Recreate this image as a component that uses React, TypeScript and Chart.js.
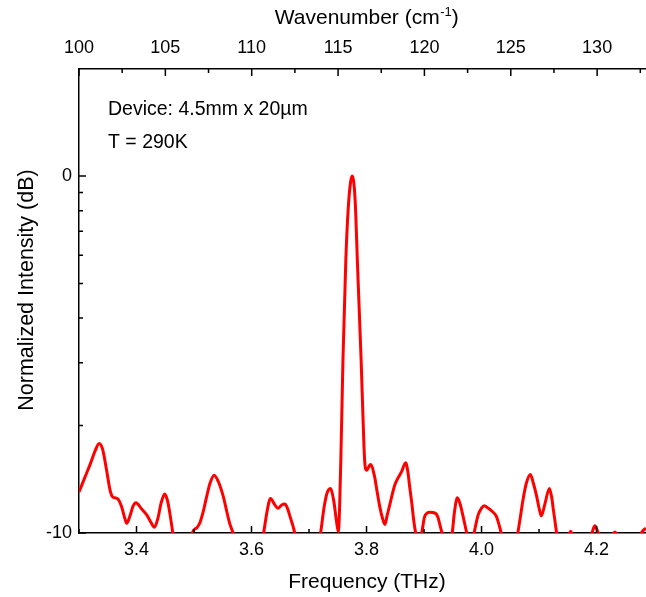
import React, { useEffect, useRef } from 'react';
import { Chart, registerables } from 'chart.js';

Chart.register(...registerables);

// ---- data ----
const frequencyTHz = [
  3.300, 3.310, 3.320, 3.328, 3.335, 3.341, 3.348, 3.354, 3.358, 3.364, 3.368, 3.374, 3.379, 3.383, 3.389, 3.394, 3.399,
  3.409, 3.418, 3.425, 3.431, 3.437, 3.443, 3.449, 3.454, 3.458, 3.464, 3.470, 3.480, 3.490, 3.497, 3.505, 3.510,
  3.516, 3.522, 3.528, 3.535, 3.542, 3.551, 3.557, 3.562, 3.569, 3.580, 3.595, 3.610, 3.621, 3.627, 3.633, 3.640,
  3.646, 3.652, 3.658, 3.663, 3.667, 3.672, 3.676, 3.690, 3.705, 3.720, 3.726, 3.731, 3.737, 3.743, 3.748, 3.751,
  3.7553, 3.759, 3.764, 3.768, 3.772, 3.775, 3.778, 3.781, 3.784, 3.7906, 3.794, 3.7967, 3.800, 3.807, 3.814, 3.818,
  3.823, 3.828, 3.832, 3.836, 3.841, 3.849, 3.855, 3.861, 3.868, 3.872, 3.875, 3.879, 3.882, 3.886, 3.891, 3.896,
  3.901, 3.905, 3.910, 3.920, 3.924, 3.927, 3.932, 3.940, 3.949, 3.953, 3.958, 3.963, 3.968, 3.975, 3.981, 3.987,
  3.994, 4.000, 4.005, 4.011, 4.017, 4.022, 4.026, 4.031, 4.035, 4.049, 4.063, 4.068, 4.072, 4.078, 4.085, 4.090,
  4.096, 4.100, 4.104, 4.110, 4.118, 4.122, 4.125, 4.128, 4.131, 4.143, 4.155, 4.167, 4.185, 4.192, 4.197, 4.203,
  4.215, 4.232, 4.250, 4.270, 4.280, 4.286,
];

const intensityDB = [
  -8.85, -8.45, -8.05, -7.7, -7.49, -7.65, -8.24, -8.8, -8.98, -9.02, -9.05, -9.26, -9.55, -9.73, -9.5, -9.25, -9.15,
  -9.33, -9.5, -9.7, -9.84, -9.6, -9.15, -8.91, -9.1, -9.45, -10.1, -10.8, -11.2, -10.8, -10.0, -9.85, -9.72,
  -9.4, -8.98, -8.6, -8.38, -8.55, -8.98, -9.4, -9.73, -10.05, -10.8, -11.2, -10.8, -10.0, -9.4, -9.03, -9.2,
  -9.31, -9.22, -9.19, -9.33, -9.54, -9.8, -10.05, -10.8, -10.8, -10.0, -9.3, -8.9, -8.75, -9.1, -9.7, -9.96,
  -7.96, -5.15, -2.35, -0.95, -0.2, 0, -0.2, -0.95, -2.35, -5.15, -6.83, -7.96, -8.24, -8.08, -8.42, -8.8,
  -9.26, -9.6, -9.76, -9.5, -9.17, -8.66, -8.45, -8.28, -8.03, -8.3, -8.7, -9.2, -9.64, -10.05, -10.4, -10.0,
  -9.54, -9.45, -9.42, -9.45, -9.55, -9.73, -10.05, -10.6, -10.0, -9.4, -9.01, -9.2, -9.54, -10.05, -10.4, -10.0,
  -9.5, -9.3, -9.24, -9.3, -9.37, -9.45, -9.54, -9.8, -10.05, -10.9, -10.0, -9.5, -9.08, -8.6, -8.36, -8.6,
  -8.98, -9.3, -9.52, -9.2, -8.75, -9.0, -9.36, -9.7, -10.05, -10.5, -9.95, -10.5, -10.3, -10.0, -9.8, -10.0,
  -10.4, -9.97, -10.5, -10.2, -9.95, -9.86,
];

const bottomMajorTicks = [3.4, 3.6, 3.8, 4.0, 4.2];
const bottomMinorTicks = [3.3, 3.5, 3.7, 3.9, 4.1];
const topMajorTicks = [100, 105, 110, 115, 120, 125, 130];
const topMinorTicks = [102.5, 107.5, 112.5, 117.5, 122.5, 127.5, 132.5];
const yMajorTicks = [-10, 0];
const yMinorLinearFractions = [0.2, 0.3, 0.4, 0.5, 0.6, 0.7, 0.8, 0.9];
const annotationLines = ['Device: 4.5mm x 20µm', 'T = 290K'];

const FONT = '"Liberation Sans", Arial, Helvetica, sans-serif';

const decorPlugin = {
  id: 'decor',
  afterDatasetsDraw(chart: any) {
    const ctx = chart.ctx as CanvasRenderingContext2D;
    const { left, right, top, bottom } = chart.chartArea;
    const xs = chart.scales.x;
    const xt = chart.scales.x2;
    const ys = chart.scales.y;
    ctx.save();
    ctx.strokeStyle = '#000';
    ctx.lineWidth = 1.5;
    ctx.beginPath();
    const major = 7;
    const minor = 4;
    bottomMajorTicks.forEach((v) => {
      const p = xs.getPixelForValue(v);
      ctx.moveTo(p, bottom); ctx.lineTo(p, bottom - major);
    });
    bottomMinorTicks.forEach((v) => {
      const p = xs.getPixelForValue(v);
      ctx.moveTo(p, bottom); ctx.lineTo(p, bottom - minor);
    });
    topMajorTicks.forEach((v) => {
      const p = xt.getPixelForValue(v);
      ctx.moveTo(p, top); ctx.lineTo(p, top + major);
    });
    topMinorTicks.forEach((v) => {
      const p = xt.getPixelForValue(v);
      if (p <= right) { ctx.moveTo(p, top); ctx.lineTo(p, top + minor); }
    });
    yMajorTicks.forEach((v) => {
      const p = ys.getPixelForValue(v);
      ctx.moveTo(left, p); ctx.lineTo(left + major, p);
    });
    yMinorLinearFractions.forEach((f) => {
      const p = ys.getPixelForValue(10 * Math.log10(f));
      ctx.moveTo(left, p); ctx.lineTo(left + minor, p);
    });
    ctx.stroke();

    ctx.fillStyle = '#000';
    // bottom title
    ctx.font = `21px ${FONT}`;
    ctx.textAlign = 'center';
    ctx.textBaseline = 'middle';
    ctx.fillText('Frequency (THz)', 367, 582);

    // left title
    ctx.save();
    ctx.translate(27, 290);
    ctx.rotate(-Math.PI / 2);
    ctx.font = `21.5px ${FONT}`;
    ctx.fillText('Normalized Intensity (dB)', 0, 0);
    ctx.restore();

    // top title with superscript
    const main = 'Wavenumber (cm';
    const sup = '-1';
    const close = ')';
    ctx.font = `21px ${FONT}`;
    const w1 = ctx.measureText(main).width;
    const w3 = ctx.measureText(close).width;
    ctx.font = `13px ${FONT}`;
    const w2 = ctx.measureText(sup).width;
    const total = w1 + w2 + w3;
    let x0 = 366.5 - total / 2;
    ctx.textAlign = 'left';
    ctx.font = `21px ${FONT}`;
    ctx.fillText(main, x0, 18);
    ctx.font = `13px ${FONT}`;
    ctx.fillText(sup, x0 + w1 + 0.5, 12);
    ctx.font = `21px ${FONT}`;
    ctx.fillText(close, x0 + w1 + w2 + 0.5, 18);

    // annotations
    ctx.font = `19.5px ${FONT}`;
    ctx.fillText(annotationLines[0], 108, 110);
    ctx.fillText(annotationLines[1], 108, 143);
    ctx.restore();
  },
};

export default function App() {
  const canvasRef = useRef<HTMLCanvasElement | null>(null);

  useEffect(() => {
    document.body.style.margin = '0';
    document.body.style.overflow = 'hidden';
    const canvas = canvasRef.current;
    if (!canvas) return;
    const points = frequencyTHz.map((f, i) => ({ x: f, y: intensityDB[i] }));
    const chart = new Chart(canvas, {
      type: 'line',
      data: {
        datasets: [
          {
            data: points,
            borderColor: '#ff0000',
            borderWidth: 3,
            pointRadius: 0,
            fill: false,
            cubicInterpolationMode: 'monotone',
            clip: 0,
            xAxisID: 'x',
            yAxisID: 'y',
          } as any,
        ],
      },
      options: {
        responsive: false,
        animation: false,
        events: [],
        layout: { padding: 0 },
        plugins: { legend: { display: false }, tooltip: { enabled: false }, title: { display: false } },
        scales: {
          x: {
            type: 'linear',
            position: 'bottom',
            min: 3.3,
            max: 4.286,
            grid: { display: false, drawTicks: false },
            border: { display: true, color: '#000', width: 1.5 },
            afterBuildTicks: (s: any) => { s.ticks = bottomMajorTicks.map((v) => ({ value: v })); },
            afterFit: (s: any) => { s.height = 64; },
            ticks: {
              autoSkip: false,
              maxRotation: 0,
              padding: 6,
              color: '#000',
              font: { family: FONT, size: 18 },
              callback: (v: any) => Number(v).toFixed(1),
            },
          },
          x2: {
            type: 'linear',
            position: 'top',
            min: 100,
            max: 132.83,
            grid: { display: false, drawTicks: false },
            border: { display: true, color: '#000', width: 1.5 },
            afterBuildTicks: (s: any) => { s.ticks = topMajorTicks.map((v) => ({ value: v })); },
            afterFit: (s: any) => { s.height = 69; },
            ticks: {
              autoSkip: false,
              maxRotation: 0,
              padding: 10,
              color: '#000',
              font: { family: FONT, size: 18 },
              callback: (v: any) => String(v),
            },
          },
          y: {
            type: 'linear',
            position: 'left',
            min: -10,
            max: 3.0,
            grid: { display: false, drawTicks: false },
            border: { display: true, color: '#000', width: 1.5 },
            afterBuildTicks: (s: any) => { s.ticks = yMajorTicks.map((v) => ({ value: v })); },
            afterFit: (s: any) => { s.width = 79; },
            ticks: {
              autoSkip: false,
              padding: 7,
              color: '#000',
              font: { family: FONT, size: 18 },
              callback: (v: any) => String(v),
            },
          },
        },
      },
      plugins: [decorPlugin],
    });
    return () => chart.destroy();
  }, []);

  return (
    <div style={{ width: 646, height: 597, background: '#fff' }}>
      <canvas ref={canvasRef} width={646} height={597} style={{ display: 'block' }} />
    </div>
  );
}
